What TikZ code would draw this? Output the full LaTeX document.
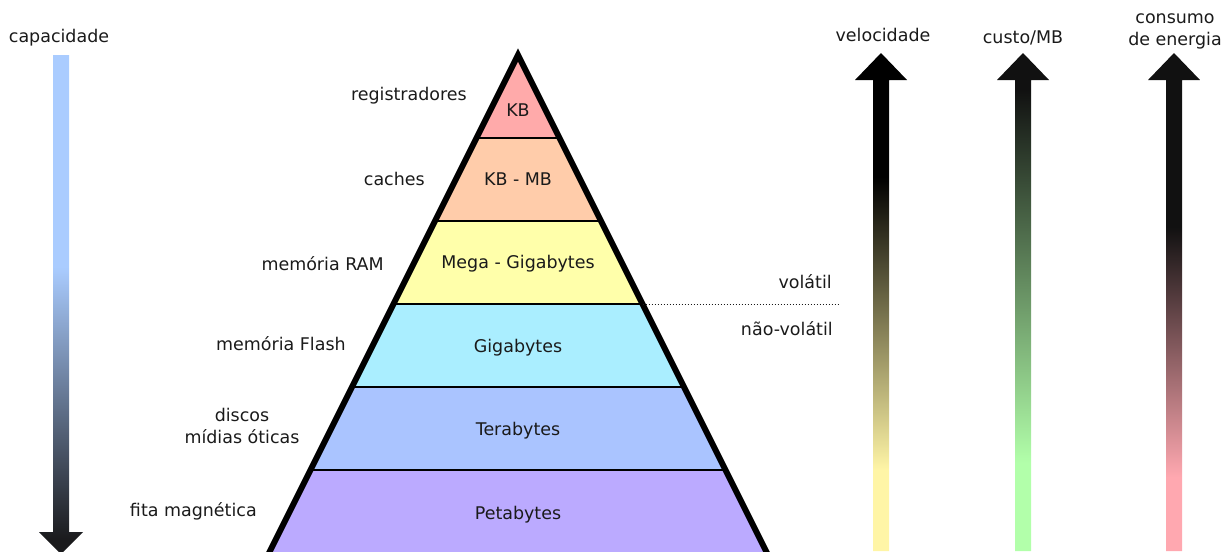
\documentclass[tikz,border=0pt]{standalone}
\usepackage{fontspec}
\setmainfont{DejaVu Sans}
\definecolor{txt}{RGB}{26,26,26}
\definecolor{capblue}{HTML}{AACCFF}
\definecolor{capdark}{HTML}{1A1A1C}
\definecolor{velyellow}{HTML}{FFF5A6}
\definecolor{cstgreen}{HTML}{B2FFAA}
\definecolor{conpink}{HTML}{FFA8B0}
\definecolor{topdark}{HTML}{111111}
\definecolor{bKB}{HTML}{FFAAAA}
\definecolor{bKBMB}{HTML}{FFCCAA}
\definecolor{bMega}{HTML}{FFFFAA}
\definecolor{bGiga}{HTML}{AAEEFF}
\definecolor{bTera}{HTML}{AAC4FF}
\definecolor{bPeta}{HTML}{BBAAFF}
\pgfdeclareverticalshading{capshade}{100bp}{color(0bp)=(capdark); color(26.4bp)=(capdark); color(53.76bp)=(capblue); color(100bp)=(capblue)}
\pgfdeclareverticalshading{velshade}{100bp}{color(0bp)=(velyellow); color(33.13bp)=(velyellow); color(62.55bp)=(black); color(100bp)=(black)}
\pgfdeclareverticalshading{cstshade}{100bp}{color(0bp)=(cstgreen); color(33.84bp)=(cstgreen); color(71.29bp)=(topdark); color(100bp)=(topdark)}
\pgfdeclareverticalshading{conshade}{100bp}{color(0bp)=(conpink); color(32.43bp)=(conpink); color(57.53bp)=(topdark); color(100bp)=(topdark)}
\begin{document}
\begin{tikzpicture}[x=0.75pt,y=-0.75pt,
  lbl/.style={font=\fontsize{13.1pt}{16pt}\selectfont, text=txt, inner sep=0pt, align=center},
  divider/.style={line width=1.5pt, draw=black},
  outline/.style={line width=4.5pt, draw=black, line join=miter, miter limit=10},
  sepline/.style={line width=0.75pt, dash pattern=on 0.75pt off 1.5pt, draw=txt}]
\useasboundingbox (0,0) rectangle (1228,551);
\clip (0,0) rectangle (1228,551);

% gradient arrows
\shade[shading=capshade] (53,55) -- (69,55) -- (69,532) -- (83,532) -- (61,554) -- (39,532) -- (53,532) -- cycle;
\shade[shading=velshade] (873,551) -- (873,80) -- (855,80) -- (881,53) -- (907,80) -- (889,80) -- (889,551) -- cycle;
\shade[shading=cstshade] (1015,551) -- (1015,80) -- (997,80) -- (1023,53) -- (1049,80) -- (1031,80) -- (1031,551) -- cycle;
\shade[shading=conshade] (1166,551) -- (1166,80) -- (1148,80) -- (1174,53) -- (1200,80) -- (1182,80) -- (1182,551) -- cycle;

% pyramid bands
\fill[bKB] (518,55) -- (559.5,138) -- (476.5,138) -- cycle;
\fill[bKBMB] (476.5,138) -- (559.5,138) -- (601,221) -- (435,221) -- cycle;
\fill[bMega] (435,221) -- (601,221) -- (642.5,304) -- (393.5,304) -- cycle;
\fill[bGiga] (393.5,304) -- (642.5,304) -- (684,387) -- (352,387) -- cycle;
\fill[bTera] (352,387) -- (684,387) -- (725.5,470) -- (310.5,470) -- cycle;
\fill[bPeta] (310.5,470) -- (725.5,470) -- (773,565) -- (263,565) -- cycle;
\draw[divider] (476.5,138) -- (559.5,138);
\draw[divider] (435,221) -- (601,221);
\draw[divider] (393.5,304) -- (642.5,304);
\draw[divider] (352,387) -- (684,387);
\draw[divider] (310.5,470) -- (725.5,470);
\draw[outline] (263,565) -- (518,55) -- (773,565);

% band labels
\node[lbl, anchor=base] (tKB) at (518,116.5) {KB};
\node[lbl, anchor=base] (tKBMB) at (518,185.5) {KB - MB};
\node[lbl, anchor=base] (tMega) at (518,268.5) {Mega - Gigabytes};
\node[lbl, anchor=base] (tGiga) at (518,352) {Gigabytes};
\node[lbl, anchor=base] (tTera) at (518,435.5) {Terabytes};
\node[lbl, anchor=base] (tPeta) at (518,519) {Petabytes};

% left labels
\node[lbl, anchor=base east] (lReg) at (467,100.5) {registradores};
\node[lbl, anchor=base east] (lCache) at (425,185) {caches};
\node[lbl, anchor=base east] (lRAM) at (384,270) {memória RAM};
\node[lbl, anchor=base east] (lFlash) at (346,350) {memória Flash};
\node[lbl] (lDisk) at (242,426) {discos\\mídias óticas};
\node[lbl, anchor=base east] (lTape) at (257,516.5) {fita magnética};

% volatile separator
\coordinate (volA) at (642.5,304);
\coordinate (volB) at (838,304);
\draw[sepline] (volA) -- (volB);
\node[lbl, anchor=base east] (lVol) at (832,288.5) {volátil};
\node[lbl, anchor=base east] (lNVol) at (833,335) {não-volátil};

% arrow titles
\node[lbl, anchor=base] (hCap) at (59,42) {capacidade};
\node[lbl, anchor=base] (hVel) at (883,41) {velocidade};
\node[lbl, anchor=base] (hCst) at (1023,43) {custo/MB};
\node[lbl] (hCon) at (1175,31.5) {consumo\\de energia};
\end{tikzpicture}
\end{document}
